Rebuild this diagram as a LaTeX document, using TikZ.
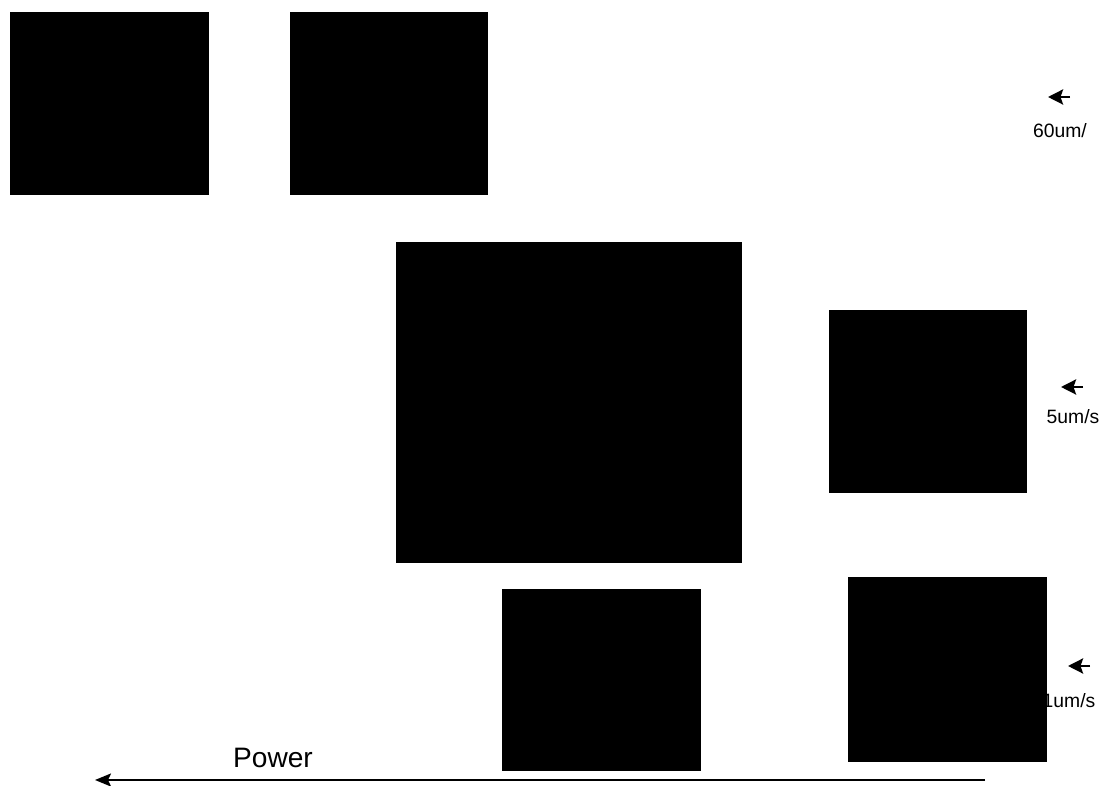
\documentclass[tikz,border=0pt]{standalone}
\usepackage{fontspec}
\setmainfont{Liberation Sans}
\usepackage{tikz}
\usetikzlibrary{arrows.meta, positioning}

\begin{document}
\begin{tikzpicture}[x=0.02cm, y=-0.02cm, blk/.style={fill=black, inner sep=0pt, outer sep=0pt}, lbl/.style={font=\fontsize{11pt}{13pt}\selectfont, inner sep=0pt}, ar/.style={-{Stealth[length=0.3cm, width=0.3cm, inset=0.05cm]}, line width=1.6pt}, pw/.style={-{Stealth[length=0.32cm, width=0.26cm, inset=0.06cm]}, line width=1.1pt}]
\useasboundingbox (0,0) rectangle (1110,786);
% speed labels
\node[lbl] (l60) at (1060,131) {60um/};
\node[lbl] (l5) at (1073,417) {5um/s};
\node[lbl] (l1) at (1069,701) {1um/s};
% samples
\node[blk, minimum width=3.98cm, minimum height=3.66cm] (b1) at (109.5,103.5) {};
\node[blk, minimum width=3.96cm, minimum height=3.66cm] (b2) at (389,103.5) {};
\node[blk, minimum width=6.92cm, minimum height=6.42cm] (b3) at (569,402.5) {};
\node[blk, minimum width=3.96cm, minimum height=3.66cm] (b4) at (928,401.5) {};
\node[blk, minimum width=3.98cm, minimum height=3.64cm] (b5) at (601.5,680) {};
\node[blk, minimum width=3.98cm, minimum height=3.70cm] (b6) at (947.5,669.5) {};
% small arrows
\coordinate (a60s) at (1070,97); \coordinate (a60e) at (1048,97);
\coordinate (a5s) at (1083,387); \coordinate (a5e) at (1061,387);
\coordinate (a1s) at (1090,666); \coordinate (a1e) at (1068,666);
\draw[ar] (a60s) -- (a60e); \draw[ar] (a5s) -- (a5e); \draw[ar] (a1s) -- (a1e);
% power axis
\coordinate (pw0) at (985,780); \coordinate (pw1) at (95,780);
\draw[pw] (pw0) -- (pw1);
\node[font=\fontsize{16pt}{18pt}\selectfont, inner sep=0pt] (pt) at (273,758) {Power};
\end{tikzpicture}
\end{document}
